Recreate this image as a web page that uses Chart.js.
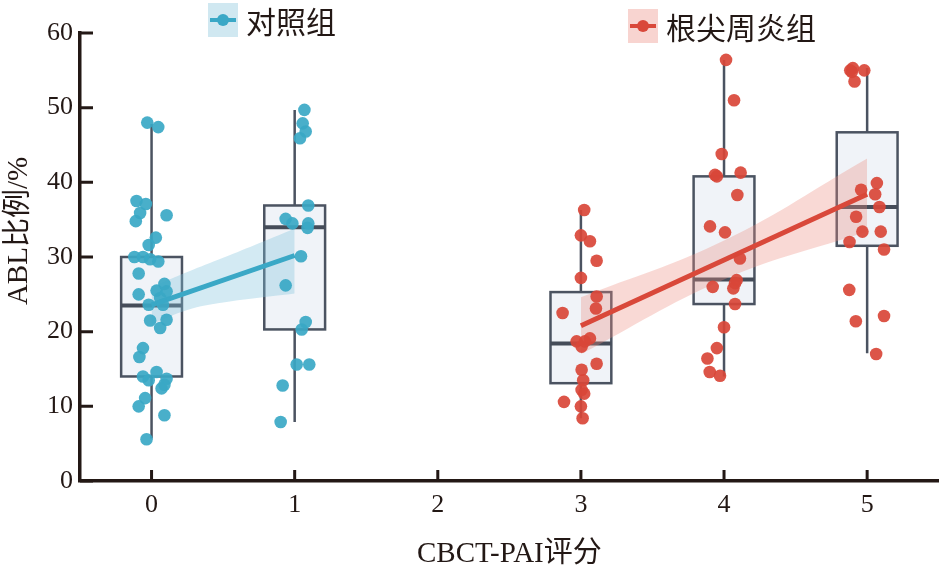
<!DOCTYPE html>
<html lang="zh">
  <head>
    <meta charset="UTF-8" />
    <script src="https://cdn.jsdelivr.net/npm/chart.js"></script>
    <title>ABL比例</title>
    <style>
      body { margin: 0; background: #fff; }
      #wrap { position: relative; width: 945px; height: 571px; }
      .leg { position: absolute; display: flex; align-items: center; font-family: "Noto Sans CJK SC", sans-serif; font-size: 30px; line-height: 34px; color: #231815; }
      .icon { position: relative; width: 30px; height: 34px; margin-right: 8px; }
      .icon .ln { position: absolute; left: 2px; right: 2px; top: 15px; height: 4px; }
      .icon .dt { position: absolute; left: 9px; top: 11px; width: 12px; height: 12px; border-radius: 50%; }
    </style>
  </head>
  <body>
    <div id="wrap">
      <canvas id="myChart"></canvas>
      <div class="leg" style="left:208px; top:3px;">
        <div class="icon" style="background: rgba(150,205,225,0.45)"><div class="ln" style="background:#3aa8c6"></div><div class="dt" style="background:#3aa8c6"></div></div>
        <span>对照组</span>
      </div>
      <div class="leg" style="left:628px; top:9px;">
        <div class="icon" style="background: rgba(240,160,150,0.45)"><div class="ln" style="background:#d9483a"></div><div class="dt" style="background:#d9483a"></div></div>
        <span>根尖周炎组</span>
      </div>
    </div>
    <script>
      // tick labels
      const xTicks = [0, 1, 2, 3, 4, 5];
      const yTicks = [0, 10, 20, 30, 40, 50, 60];

      // box plot stats per score
      const boxGroups = [0, 1, 3, 4, 5];
      const boxLow = [5.7, 7.9, 8.4, 14.0, 17.1];
      const boxQ1 = [14.0, 20.3, 13.1, 23.7, 31.5];
      const boxMed = [23.5, 34.0, 18.4, 27.0, 36.7];
      const boxQ3 = [30.0, 36.9, 25.3, 40.8, 46.7];
      const boxHigh = [47.8, 49.7, 36.3, 56.4, 55.3];

      // raw points: values and horizontal jitter
      const g0Y = [48.0, 47.4, 37.5, 37.1, 35.9, 34.8, 35.6, 32.6, 31.6, 30.0, 30.0, 29.7, 29.4, 27.8, 25.0, 25.5, 26.4, 25.4, 24.5, 23.6, 23.6, 21.5, 21.6, 20.5, 17.8, 16.6, 14.0, 13.5, 14.6, 13.7, 12.4, 12.9, 11.1, 10.0, 8.8, 5.6];
      const g0Dx = [-0.03, 0.047, -0.105, -0.04, -0.08, -0.11, 0.105, 0.03, -0.02, -0.12, -0.06, -0.01, 0.047, -0.09, -0.09, 0.035, 0.09, 0.105, 0.06, -0.02, 0.08, -0.01, 0.105, 0.06, -0.06, -0.085, -0.06, -0.02, 0.035, 0.105, 0.07, 0.09, -0.045, -0.09, 0.09, -0.035];
      const g1Y = [49.7, 47.9, 46.8, 45.9, 36.9, 35.1, 34.5, 34.5, 33.9, 30.1, 26.2, 21.3, 20.3, 15.6, 15.6, 12.8, 7.9];
      const g1Dx = [0.068, 0.056, 0.077, 0.037, 0.095, -0.063, -0.016, 0.095, 0.09, 0.044, -0.063, 0.077, 0.049, 0.014, 0.102, -0.084, -0.098];
      const g3Y = [36.3, 32.9, 32.1, 29.5, 27.2, 24.7, 23.1, 22.5, 18.7, 18.0, 19.1, 18.7, 15.7, 14.9, 13.5, 12.2, 11.7, 10.6, 10.0, 8.4];
      const g3Dx = [0.023, 0, 0.063, 0.11, 0, 0.11, 0.105, -0.128, -0.03, 0.005, 0.063, 0.028, 0.11, 0.005, 0.016, 0.005, 0.023, -0.118, 0, 0.012];
      const g4Y = [56.4, 51.0, 43.8, 41.0, 40.8, 41.3, 38.3, 34.1, 33.3, 29.8, 26.9, 25.8, 26.0, 26.5, 23.7, 20.6, 17.8, 16.4, 14.6, 14.1];
      const g4Dx = [0.014, 0.07, -0.016, -0.063, -0.05, 0.116, 0.093, -0.098, 0.007, 0.111, 0.088, 0.065, -0.079, 0.077, 0.077, 0, -0.05, -0.116, -0.1, -0.028];
      const g5Y = [55.0, 55.3, 55.0, 54.8, 53.5, 39.9, 39.0, 38.4, 36.7, 35.4, 33.4, 33.4, 32.0, 31.0, 25.6, 21.4, 22.1, 17.0];
      const g5Dx = [-0.118, -0.1, -0.02, -0.107, -0.088, 0.068, -0.042, 0.056, 0.086, -0.077, -0.033, 0.095, -0.123, 0.118, -0.125, -0.079, 0.118, 0.063];

      // fitted lines and confidence bands
      const ctrlFitX = [0, 1];
      const ctrlFitY = [23.6, 30.2];
      const ctrlBandX = [0, 0.25, 0.5, 1];
      const ctrlBandLo = [21.0, 22.9, 23.9, 25.1];
      const ctrlBandHi = [26.0, 28.0, 29.9, 33.8];
      const caseFitX = [3, 5];
      const caseFitY = [20.8, 38.4];
      const caseBandX = [3, 4, 5];
      const caseBandLo = [17.0, 27.0, 33.4];
      const caseBandHi = [24.6, 32.2, 43.2];

      const blue = "rgba(58,168,198,0.92)";
      const red = "rgba(217,70,56,0.92)";
      const ink = "#231815";
      const serif = "'Liberation Serif', 'Noto Sans CJK SC', serif";
      const yTitle = "ABL比例/%";

      function pts(g, ys, dxs) {
        return ys.map((y, i) => ({ x: g + dxs[i], y: y }));
      }
      function xy(xs, ys) {
        return xs.map((x, i) => ({ x: x, y: ys[i] }));
      }

      const boxPlugin = {
        id: "boxes",
        beforeDatasetsDraw(chart) {
          const { ctx, scales: { x, y } } = chart;
          const hw = 0.2125;
          ctx.save();
          boxGroups.forEach((g, i) => {
            const cx = x.getPixelForValue(g);
            const l = x.getPixelForValue(g - hw);
            const r = x.getPixelForValue(g + hw);
            ctx.strokeStyle = "#4b5361";
            ctx.lineWidth = 2.5;
            ctx.beginPath();
            ctx.moveTo(cx, y.getPixelForValue(boxLow[i]));
            ctx.lineTo(cx, y.getPixelForValue(boxQ1[i]));
            ctx.moveTo(cx, y.getPixelForValue(boxQ3[i]));
            ctx.lineTo(cx, y.getPixelForValue(boxHigh[i]));
            ctx.stroke();
            const t = y.getPixelForValue(boxQ3[i]);
            const b = y.getPixelForValue(boxQ1[i]);
            ctx.fillStyle = "rgba(228,234,242,0.55)";
            ctx.fillRect(l, t, r - l, b - t);
            ctx.strokeRect(l, t, r - l, b - t);
            ctx.lineWidth = 4;
            ctx.strokeStyle = "#454c59";
            ctx.beginPath();
            const m = y.getPixelForValue(boxMed[i]);
            ctx.moveTo(l, m);
            ctx.lineTo(r, m);
            ctx.stroke();
          });
          ctx.restore();
        },
      };

      // inward tick marks + y title (sits a bit above the axis centre)
      const tickPlugin = {
        id: "inTicks",
        afterDraw(chart) {
          const { ctx, scales: { x, y }, chartArea } = chart;
          ctx.save();
          ctx.strokeStyle = ink;
          ctx.lineWidth = 3;
          ctx.beginPath();
          yTicks.forEach((v) => {
            const py = y.getPixelForValue(v);
            ctx.moveTo(chartArea.left, py);
            ctx.lineTo(chartArea.left + 13, py);
          });
          xTicks.forEach((v) => {
            const px = x.getPixelForValue(v);
            ctx.moveTo(px, chartArea.bottom);
            ctx.lineTo(px, chartArea.bottom - 11);
          });
          ctx.stroke();

          ctx.translate(19, (chartArea.top + chartArea.bottom) / 2 - 26);
          ctx.rotate(-Math.PI / 2);
          ctx.fillStyle = ink;
          ctx.font = "29px " + serif;
          ctx.textAlign = "center";
          ctx.textBaseline = "middle";
          ctx.fillText(yTitle, 0, 0);
          ctx.restore();
        },
      };

      const ctx = document.getElementById("myChart");
      new Chart(ctx, {
        type: "scatter",
        data: {
          datasets: [
            { label: "对照组", data: [...pts(0, g0Y, g0Dx), ...pts(1, g1Y, g1Dx)], backgroundColor: blue, borderWidth: 0, pointRadius: 6.3, order: 0 },
            { label: "根尖周炎组", data: [...pts(3, g3Y, g3Dx), ...pts(4, g4Y, g4Dx), ...pts(5, g5Y, g5Dx)], backgroundColor: red, borderWidth: 0, pointRadius: 6.3, order: 0 },
            { data: xy(ctrlFitX, ctrlFitY), showLine: true, borderColor: "#3aa8c6", borderWidth: 5, pointRadius: 0, order: 1 },
            { data: xy(caseFitX, caseFitY), showLine: true, borderColor: "#d9483a", borderWidth: 5, pointRadius: 0, order: 1 },
            { data: xy(ctrlBandX, ctrlBandLo), showLine: true, borderWidth: 0, pointRadius: 0, tension: 0.4, order: 2 },
            { data: xy(ctrlBandX, ctrlBandHi), showLine: true, borderWidth: 0, pointRadius: 0, tension: 0.4, order: 2, fill: 4, backgroundColor: "rgba(130,195,222,0.35)" },
            { data: xy(caseBandX, caseBandLo), showLine: true, borderWidth: 0, pointRadius: 0, tension: 0.4, order: 2 },
            { data: xy(caseBandX, caseBandHi), showLine: true, borderWidth: 0, pointRadius: 0, tension: 0.4, order: 2, fill: 6, backgroundColor: "rgba(238,140,128,0.33)" },
          ],
        },
        options: {
          responsive: true,
          maintainAspectRatio: false,
          animation: false,
          layout: { padding: { top: 33, right: 4, left: 0, bottom: 0 } },
          plugins: { legend: { display: false }, tooltip: { enabled: false } },
          scales: {
            x: {
              type: "linear",
              min: -0.5,
              max: 5.5,
              afterBuildTicks: (scale) => { scale.ticks = xTicks.map((v) => ({ value: v })); },
              afterFit: (scale) => { scale.height = 90; },
              grid: { display: false, drawTicks: false },
              border: { display: true, color: ink, width: 3.5 },
              ticks: { color: ink, padding: 9, font: { family: serif, size: 26 } },
              title: { display: true, text: "CBCT-PAI评分", color: ink, padding: { top: 0, bottom: 1 }, font: { family: serif, size: 29, lineHeight: 1.05 } },
            },
            y: {
              min: 0,
              max: 60,
              afterBuildTicks: (scale) => { scale.ticks = yTicks.map((v) => ({ value: v })); },
              afterFit: (scale) => { scale.width = 80; },
              grid: { display: false, drawTicks: false },
              border: { display: true, color: ink, width: 3.5 },
              ticks: { color: ink, padding: 7, font: { family: serif, size: 26 } },
            },
          },
        },
        plugins: [boxPlugin, tickPlugin],
      });
    </script>
  </body>
</html>
